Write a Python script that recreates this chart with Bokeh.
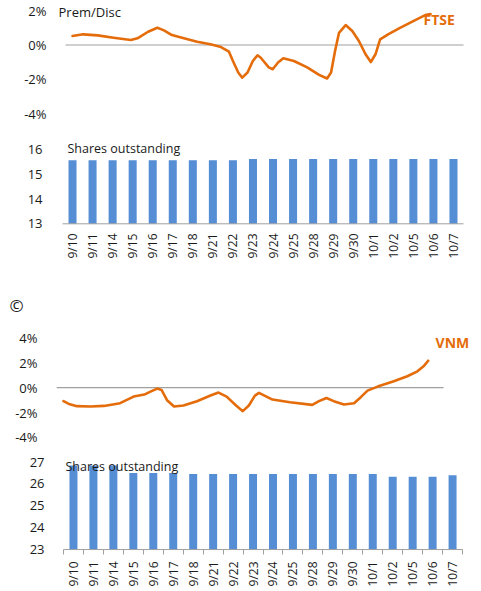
import math
from bokeh.plotting import figure
from bokeh.models import Range1d, FixedTicker, PrintfTickFormatter, Label, Title
from bokeh.layouts import column
from bokeh.embed import file_html
from bokeh.resources import INLINE

# ---------------- data ----------------
dates = ["9/10", "9/11", "9/14", "9/15", "9/16", "9/17", "9/18", "9/21", "9/22", "9/23",
         "9/24", "9/25", "9/28", "9/29", "9/30", "10/1", "10/2", "10/5", "10/6", "10/7"]

ftse_shares = [15.58] * 9 + [15.63] * 11
vnm_shares = [26.85, 26.85, 26.85, 26.5, 26.5, 26.5,
              26.45, 26.45, 26.45, 26.45, 26.45, 26.45, 26.45, 26.45, 26.45, 26.45,
              26.33, 26.33, 26.33, 26.4]

# premium/discount readings (days after 9/10, percent)
ftse_day = [0.0, 0.8, 1.9, 3.1, 4.4, 4.9, 5.7, 6.4, 6.9, 7.5,
            8.4, 9.4, 10.4, 11.2, 11.8, 12.1, 12.5, 12.8, 13.2, 13.6,
            13.95, 14.2, 14.4, 14.8, 15.1, 15.5, 15.9, 16.7, 17.7, 18.6,
            19.2, 19.5, 19.8, 20.1, 20.6, 21.1, 21.6, 22.1, 22.5, 22.85,
            23.2, 23.8, 24.7, 25.7, 26.6, 27.0]
ftse_prem = [0.52, 0.62, 0.56, 0.42, 0.29, 0.39, 0.77, 1.0, 0.85, 0.58,
             0.39, 0.19, 0.04, -0.12, -0.39, -0.93, -1.6, -1.9, -1.6, -0.93,
             -0.6, -0.74, -0.93, -1.3, -1.41, -1.02, -0.77, -0.93, -1.3, -1.74,
             -1.95, -1.6, -0.35, 0.71, 1.16, 0.81, 0.23, -0.54, -0.99, -0.54,
             0.33, 0.62, 1.0, 1.39, 1.74, 1.8]

vnm_day = [0.0, 0.4, 1.0, 2.0, 3.0, 4.2, 4.7, 5.2, 6.0, 6.45,
           6.95, 7.27, 7.7, 8.2, 8.9, 9.9, 10.9, 11.5, 12.1, 12.8,
           13.3, 13.75, 14.2, 14.5, 15.5, 16.8, 18.45, 18.95, 19.5, 20.05,
           20.8, 21.55, 22.05, 22.55, 23.3, 24.5, 25.5, 26.25, 26.75, 27.05]
vnm_prem = [-1.09, -1.31, -1.49, -1.52, -1.47, -1.25, -0.99, -0.72, -0.56, -0.32,
            -0.08, -0.19, -1.04, -1.52, -1.44, -1.09, -0.64, -0.4, -0.72, -1.44,
            -1.89, -1.44, -0.64, -0.42, -0.96, -1.17, -1.39, -1.09, -0.83, -1.09,
            -1.36, -1.25, -0.77, -0.24, 0.08, 0.51, 0.91, 1.31, 1.76, 2.16]

# extent of the horizontal (category) axis of each prem/disc chart, in days
ftse_axis_days = [-0.528, 29.49]
vnm_axis_days = [-0.519, 28.19]
# extent of the category axis of the bar charts (category index units)
bar_axis_span = [-0.5, len(dates) - 0.5]

pct_ticks = [-4, -2, 0, 2]
vnm_pct_ticks = [-4, -2, 0, 2, 4]
ftse_share_ticks = [13, 14, 15, 16]
vnm_share_ticks = [23, 24, 25, 26, 27]
ftse_share_base = 13
vnm_share_base = 23

# ---------------- style ----------------
FONT = "Open Sans"
ORANGE = "#E46C0A"
BLUE = "#558ED5"
GRAY = "#A0A0A0"
TXT = "#1a1a1a"
W = 480
LEFT = 56
RIGHT = 0


def make_fig(height, top, bottom, xr, yr, xaxis=True, standoff=13):
    p = figure(width=W, height=height, x_range=xr, y_range=yr,
               output_backend="svg", toolbar_location=None,
               min_border_left=LEFT, min_border_right=RIGHT,
               min_border_top=top, min_border_bottom=bottom,
               x_axis_location="below" if xaxis else None)
    p.outline_line_color = None
    p.grid.visible = False
    p.background_fill_color = "white"
    p.border_fill_color = "white"
    ya = p.yaxis[0]
    ya.axis_line_color = None
    ya.major_tick_line_color = None
    ya.minor_tick_line_color = None
    ya.major_label_standoff = standoff
    ya.major_label_text_font = FONT
    ya.major_label_text_font_size = "13px"
    ya.major_label_text_color = TXT
    return p


def style_date_axis(p, boundary_ticks, standoff):
    xa = p.xaxis[0]
    if boundary_ticks:
        xa.ticker = FixedTicker(ticks=list(range(len(dates))),
                                minor_ticks=[i - 0.5 for i in range(len(dates) + 1)])
        xa.minor_tick_out = 3
        xa.minor_tick_in = 2
        xa.minor_tick_line_color = GRAY
    else:
        xa.ticker = FixedTicker(ticks=list(range(len(dates))))
        xa.minor_tick_line_color = None
    xa.major_label_overrides = {i: d for i, d in enumerate(dates)}
    xa.major_tick_line_color = None
    xa.major_tick_out = 0
    xa.major_tick_in = 0
    xa.axis_line_color = None
    xa.major_label_orientation = math.pi / 2
    xa.major_label_standoff = standoff
    xa.major_label_text_font = FONT
    xa.major_label_text_font_size = "12px"
    xa.major_label_text_color = TXT


# ---------- FTSE premium / discount ----------
f1 = make_fig(128, 0, 0, Range1d(-1.207, 30.77), Range1d(-4.855, 2.587),
              xaxis=False, standoff=4)
f1.yaxis[0].ticker = FixedTicker(ticks=pct_ticks)
f1.yaxis[0].formatter = PrintfTickFormatter(format="%d%%")
f1.segment(x0=[ftse_axis_days[0]], y0=[0], x1=[ftse_axis_days[1]], y1=[0],
           line_color=GRAY, line_width=1.2)
f1.line(ftse_day, ftse_prem, line_color=ORANGE, line_width=2.6, line_join="round", line_cap="round")
f1.add_layout(Label(x=-1.056, y=1.89, text="Prem/Disc", text_font=FONT, text_font_size="13px",
                    text_color=TXT, text_baseline="middle", text_align="left"))
f1.add_layout(Label(x=26.47, y=1.51, text="FTSE", text_font=FONT, text_font_size="14px",
                    text_font_style="bold", text_color=ORANGE, text_baseline="middle", text_align="left"))

# ---------- FTSE shares outstanding ----------
f2 = make_fig(162, 10, 65, Range1d(-0.799, 20.348), Range1d(12.931, 16.458), standoff=8)
f2.yaxis[0].ticker = FixedTicker(ticks=ftse_share_ticks)
f2.vbar(x=list(range(len(dates))), top=ftse_shares, bottom=ftse_share_base, width=0.4,
        fill_color=BLUE, line_color=None)
f2.segment(x0=[bar_axis_span[0]], y0=[ftse_share_base], x1=[bar_axis_span[1]], y1=[ftse_share_base],
           line_color=GRAY, line_width=1)
style_date_axis(f2, False, 8)
f2.add_layout(Label(x=-0.25, y=16.06, text="Shares outstanding", text_font=FONT,
                    text_font_size="12.5px", text_color=TXT, text_baseline="middle", text_align="left"))

# ---------- VNM premium / discount ----------
f3 = make_fig(155, 26, 0, Range1d(-0.519, 30.93), Range1d(-4.65, 5.711), xaxis=False)
f3.yaxis[0].ticker = FixedTicker(ticks=vnm_pct_ticks)
f3.yaxis[0].formatter = PrintfTickFormatter(format="%d%%")
f3.segment(x0=[vnm_axis_days[0]], y0=[0], x1=[vnm_axis_days[1]], y1=[0],
           line_color=GRAY, line_width=1.2)
f3.line(vnm_day, vnm_prem, line_color=ORANGE, line_width=2.6, line_join="round", line_cap="round")
f3.add_layout(Label(x=27.6, y=3.59, text="VNM", text_font=FONT, text_font_size="14px",
                    text_font_style="bold", text_color=ORANGE, text_baseline="middle", text_align="left"))
f3.add_layout(Title(text="\u00a9", align="left", offset=-47, standoff=0,
                    text_font=FONT, text_font_size="17px", text_font_style="normal",
                    text_color=TXT), "above")

# ---------- VNM shares outstanding ----------
f4 = make_fig(144, 7, 36, Range1d(-0.851, 20.40), Range1d(22.91, 27.439), standoff=6)
f4.yaxis[0].ticker = FixedTicker(ticks=vnm_share_ticks)
f4.vbar(x=list(range(len(dates))), top=vnm_shares, bottom=vnm_share_base, width=0.4,
        fill_color=BLUE, line_color=None)
f4.segment(x0=[bar_axis_span[0]], y0=[vnm_share_base], x1=[bar_axis_span[1]], y1=[vnm_share_base],
           line_color=GRAY, line_width=1)
style_date_axis(f4, True, 7)
f4.add_layout(Label(x=-0.4, y=26.78, text="Shares outstanding", text_font=FONT,
                    text_font_size="12.5px", text_color=TXT, text_baseline="middle", text_align="left"))

layout = column(f1, f2, f3, f4, spacing=0)
open("out.html", "w").write(file_html(layout, INLINE))
